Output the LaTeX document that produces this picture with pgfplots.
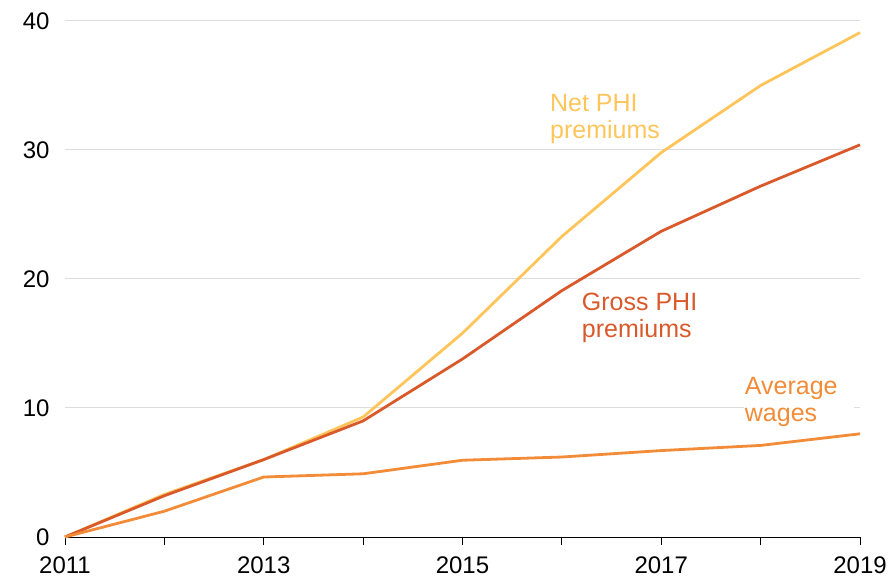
\documentclass[border=0pt]{standalone}
\usepackage{pgfplots}
\pgfplotsset{compat=1.18}
\usepackage{fontspec}
\setmainfont{Liberation Sans}

\definecolor{netc}{HTML}{FFC55A}
\definecolor{grossc}{HTML}{D9592B}
\definecolor{wagec}{HTML}{F28C38}
\definecolor{gridc}{HTML}{DDDDDD}

\begin{document}
\begin{tikzpicture}
\begin{axis}[
    name=ax,
    scale only axis,
    width=795pt,
    height=516pt,
    xmin=2011, xmax=2019,
    ymin=0, ymax=40,
    axis x line*=bottom,
    axis y line*=left,
    y axis line style={draw=none},
    xtick={2011,2013,...,2019},
    minor xtick={2012,2014,...,2018},
    xtick align=outside,
    xtick style={draw=black, line width=0.8pt},
    major tick length=8pt,
    minor tick length=8pt,
    ytick={0,10,...,40},
    ytick style={draw=none},
    ymajorgrids,
    grid style={gridc, line width=1pt},
    x axis line style={black, line width=1pt, -},
    xticklabel style={font=\fontsize{24}{28}\selectfont, yshift=-8pt},
    yticklabel style={font=\fontsize{24}{28}\selectfont, xshift=-12pt},
    xticklabel={\pgfmathprintnumber[fixed,1000 sep={}]{\tick}},
    /pgf/number format/assume math mode=true,
    clip=false,
    line join=round,
]
\addplot[netc, line width=2.8pt] coordinates {
(2011,0) (2012,3.3) (2013,6.0) (2014,9.3) (2015,15.8)
(2016,23.3) (2017,29.8) (2018,35.0) (2019,39.1)};
\addplot[grossc, line width=2.8pt] coordinates {
(2011,0) (2012,3.2) (2013,6.0) (2014,9.0) (2015,13.8)
(2016,19.1) (2017,23.7) (2018,27.2) (2019,30.4)};
\addplot[wagec, line width=2.8pt] coordinates {
(2011,0) (2012,2.0) (2013,4.65) (2014,4.9) (2015,5.95)
(2016,6.2) (2017,6.7) (2018,7.1) (2019,8.0)};

\node[anchor=north west, align=left, text=netc, inner sep=0pt,
      font=\fontsize{25}{27}\selectfont] at (axis cs:2015.88,34.3) {Net PHI\\premiums};
\node[anchor=north west, align=left, text=grossc, inner sep=0pt,
      font=\fontsize{25}{27}\selectfont] at (axis cs:2016.2,18.9) {Gross PHI\\premiums};
\node[anchor=north west, align=left, text=wagec, fill=white, inner sep=1pt,
      text width=108pt,
      font=\fontsize{25}{27}\selectfont] at (axis cs:2017.83,12.5) {Average\\wages};
\end{axis}
\path ([xshift=-65pt,yshift=-40pt]ax.south west) rectangle ([xshift=32pt,yshift=21pt]ax.north east);
\end{tikzpicture}
\end{document}
